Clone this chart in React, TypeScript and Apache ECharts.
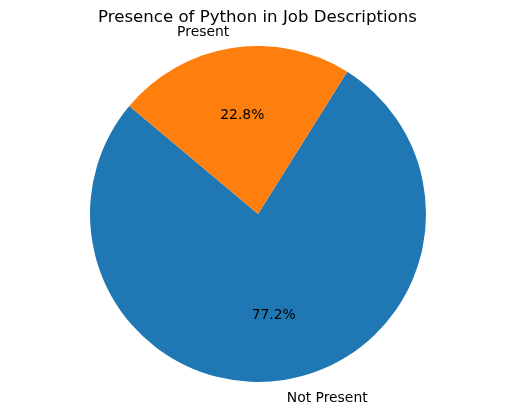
import React, { useEffect, useRef } from "react";
import * as echarts from "echarts";

const categories = ["Not Present", "Present"];
const shares = [77.2, 22.8];
const colors = ["#1f77b4", "#ff7f0e"];
const titleText = "Presence of Python in Job Descriptions";

export default function App() {
  const ref = useRef<HTMLDivElement>(null);
  useEffect(() => {
    if (!ref.current) return;
    const chart = echarts.init(ref.current, undefined, { renderer: "svg" });
    const data = categories.map((name, i) => ({ name, value: shares[i], itemStyle: { color: colors[i] } }));
    const R = 168;
    const font = "DejaVu Sans";
    chart.setOption({
      animation: false,
      title: {
        text: titleText,
        left: "center",
        top: 3,
        textStyle: { fontFamily: font, fontSize: 16.6, fontWeight: "normal", color: "#000" },
      },
      series: [
        {
          type: "pie",
          center: [258, 214],
          radius: [0, R],
          startAngle: 140,
          clockwise: false,
          avoidLabelOverlap: false,
          percentPrecision: 1,
          itemStyle: { borderWidth: 0 },
          emphasis: { disabled: true },
          data,
          label: {
            show: true,
            position: "outside",
            formatter: "{b}",
            fontFamily: font,
            fontSize: 13.9,
            color: "#000",
            distanceToLabelLine: 0,
          },
          labelLine: { show: false, length: R * 0.1, length2: 0 },
        },
        {
          type: "pie",
          center: [258, 214],
          radius: [0, R * 1.165],
          startAngle: 140,
          clockwise: false,
          avoidLabelOverlap: false,
          percentPrecision: 1,
          silent: true,
          z: 3,
          itemStyle: { color: "transparent", borderWidth: 0 },
          emphasis: { disabled: true },
          data: categories.map((name, i) => ({ name, value: shares[i] })),
          label: {
            show: true,
            position: "inside",
            formatter: (p: any) => p.percent.toFixed(1) + "%",
            fontFamily: font,
            fontSize: 13.9,
            color: "#000",
          },
          labelLine: { show: false },
        },
      ],
    });
    return () => chart.dispose();
  }, []);
  return <div ref={ref} style={{ position: "fixed", left: 0, top: 0, width: 515, height: 414 }} />;
}
